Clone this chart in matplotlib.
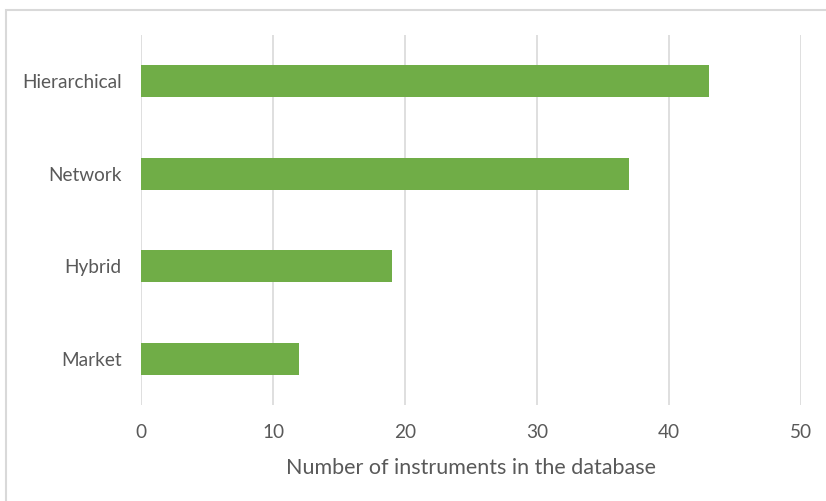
import matplotlib.pyplot as plt
from matplotlib.patches import Rectangle

categories = ['Market', 'Hybrid', 'Network', 'Hierarchical']
counts = [12, 19, 37, 43]
xticks = [0, 10, 20, 30, 40, 50]

plt.rcParams['font.family'] = ['Lato', 'DejaVu Sans']

W, H = 826, 501
fig = plt.figure(figsize=(W / 100, H / 100), dpi=100)
ax = fig.add_axes([141 / W, 1 - 405 / H, (801 - 141) / W, (405 - 35) / H])

ax.barh(categories, counts, height=0.35, color='#70AD47', zorder=3)

ax.set_xlim(0, 50)
ax.set_ylim(-0.5, len(categories) - 0.5)
ax.set_xticks(xticks)
ax.grid(axis='x', color='#d9d9d9', linewidth=1.2, zorder=0)
ax.grid(axis='y', visible=False)
for side in ['top', 'right', 'bottom', 'left']:
    ax.spines[side].set_visible(False)
ax.tick_params(axis='both', length=0, labelsize=13.7, labelcolor='#595959')
ax.tick_params(axis='x', pad=14)
ax.tick_params(axis='y', pad=14)
ax.set_xlabel('Number of instruments in the database', fontsize=15.5,
              color='#595959', labelpad=12)

# chart frame, only its top and left edges fall inside the image
fig.add_artist(Rectangle((6 / W, -0.1), 1.2, 1 - 10 / H + 0.1,
                         transform=fig.transFigure, fill=False,
                         edgecolor='#d9d9d9', linewidth=1.5))

fig.savefig('out.png', dpi=100)
